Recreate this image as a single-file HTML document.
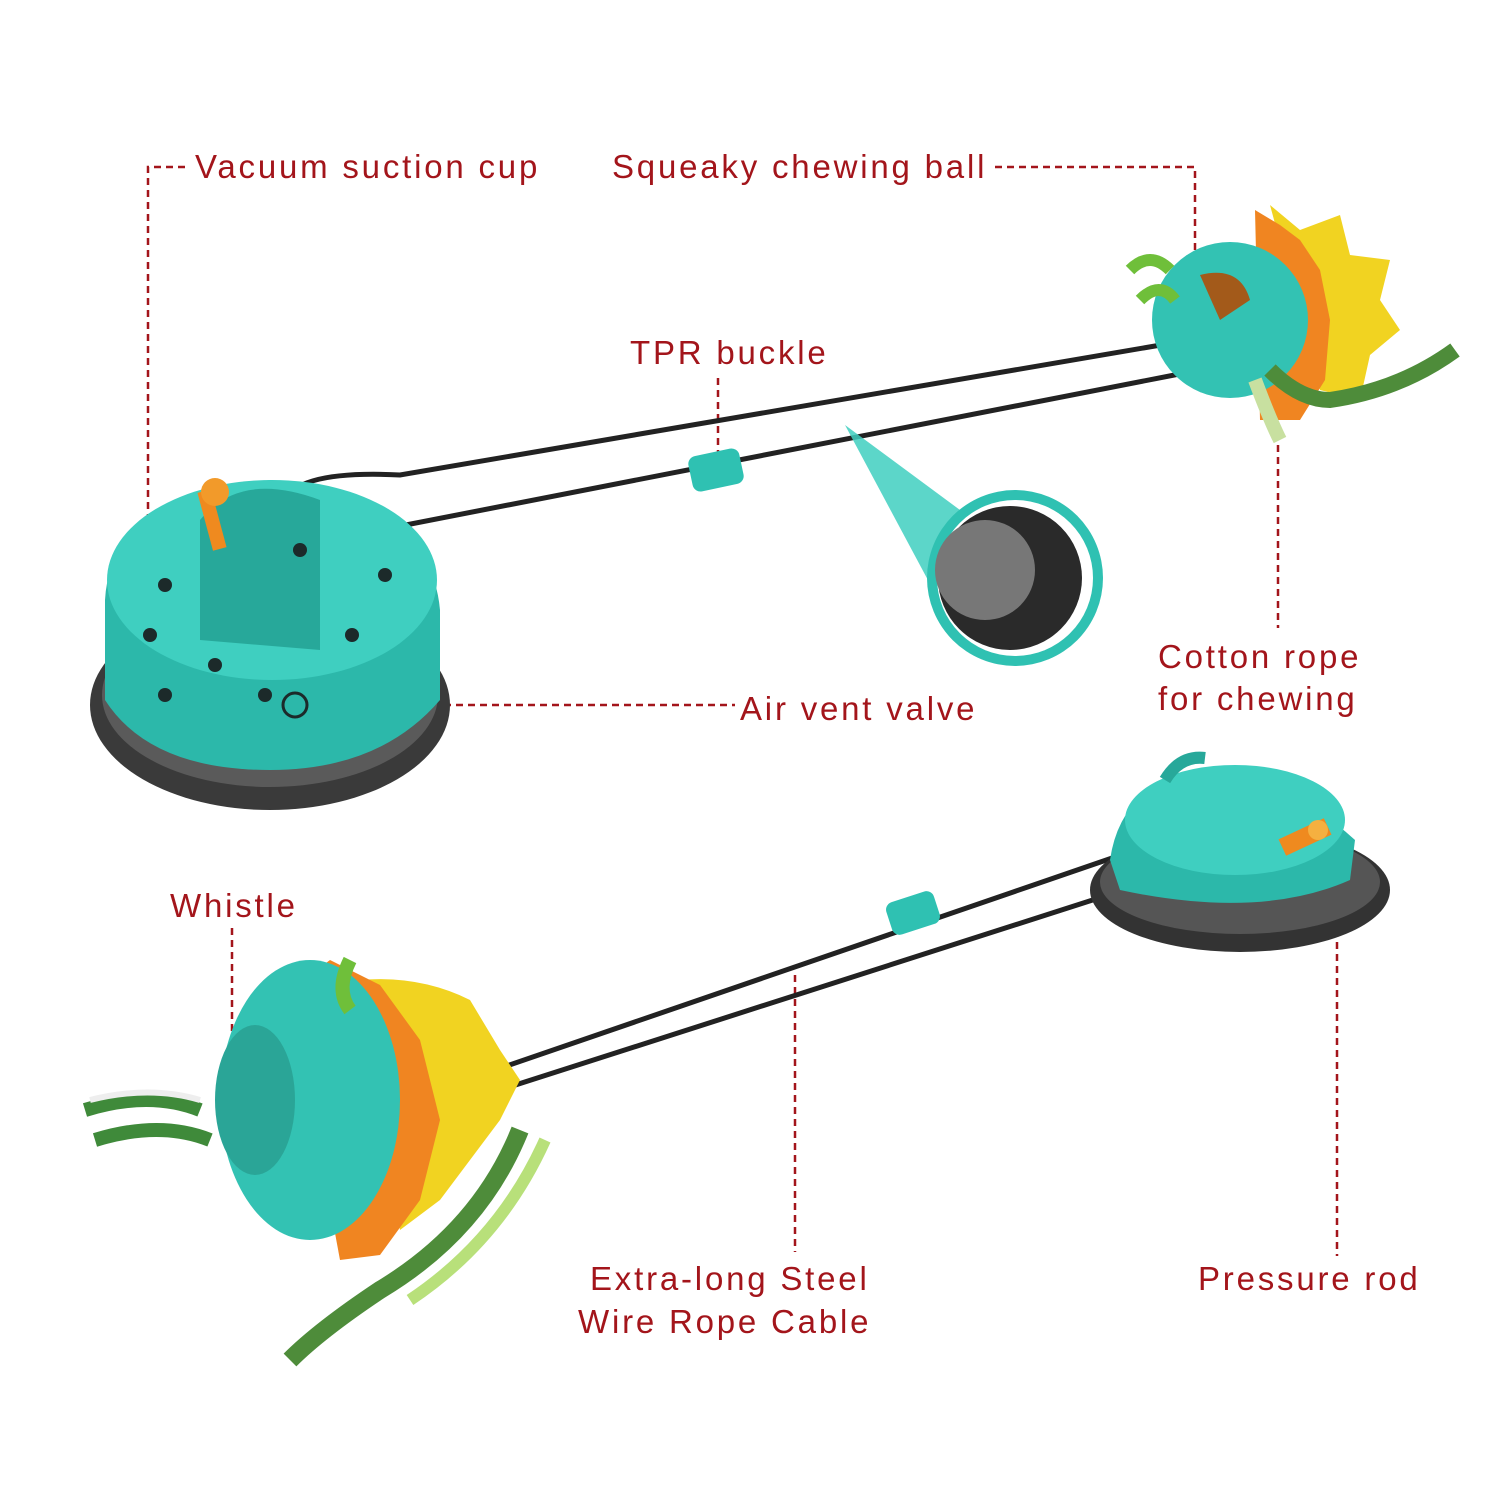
<!DOCTYPE html>
<html><head><meta charset="utf-8"><style>
html,body{margin:0;padding:0;background:#fff;}
svg{display:block}
text{font-family:"Liberation Sans",sans-serif;font-size:33px;fill:#a3151b;letter-spacing:2.8px}
.d{stroke:#a3151b;stroke-width:2.5;stroke-dasharray:7 5;fill:none}
.w{stroke:#222;stroke-width:5;fill:none;stroke-linecap:round}
</style></head><body>
<svg width="1500" height="1498" viewBox="0 0 1500 1498">
<path class="d" d="M185 167 H148 V610"/>
<path class="d" d="M995 167 H1195 V300"/>
<path class="d" d="M718 378 V452"/>
<path class="d" d="M1278 445 V628"/>
<path class="d" d="M312 705 H735"/>
<path class="d" d="M232 928 V1165"/>
<path class="d" d="M795 975 V1252"/>
<path class="d" d="M1337 918 V1256"/>

<text x="195" y="178">Vacuum suction cup</text>
<text x="612" y="178">Squeaky chewing ball</text>
<text x="630" y="364">TPR buckle</text>
<text x="1158" y="668">Cotton rope</text>
<text x="1158" y="710">for chewing</text>
<text x="740" y="720">Air vent valve</text>
<text x="170" y="917">Whistle</text>
<text x="590" y="1290">Extra-long Steel</text>
<text x="578" y="1333">Wire Rope Cable</text>
<text x="1198" y="1290">Pressure rod</text>

<path class="w" d="M285 500 Q300 470 400 475 L1190 340"/>
<path class="w" d="M290 520 Q300 560 380 530 L1200 370"/>
<rect x="690" y="452" width="52" height="36" rx="8" fill="#2fc1b2" transform="rotate(-12 716 470)"/>

<ellipse cx="270" cy="705" rx="180" ry="105" fill="#3a3a3a"/>
<ellipse cx="270" cy="695" rx="168" ry="92" fill="#5a5a5a"/>
<path d="M105 600 Q110 500 270 480 Q430 500 440 610 L440 700 Q380 770 270 770 Q150 770 105 700 Z" fill="#2cb8aa"/>
<ellipse cx="272" cy="580" rx="165" ry="100" fill="#3fcfc0"/>
<path d="M200 520 Q240 470 320 500 L320 650 L200 640 Z" fill="#27a89a"/>
<rect x="205" y="490" width="14" height="60" fill="#ef8a1f" transform="rotate(-15 212 520)"/>
<circle cx="215" cy="492" r="14" fill="#f29a2a"/>
<g fill="#1c2a2a">
<circle cx="165" cy="585" r="7"/><circle cx="150" cy="635" r="7"/><circle cx="215" cy="665" r="7"/><circle cx="265" cy="695" r="7"/><circle cx="352" cy="635" r="7"/><circle cx="385" cy="575" r="7"/><circle cx="165" cy="695" r="7"/><circle cx="300" cy="550" r="7"/></g>
<circle cx="295" cy="705" r="12" fill="none" stroke="#1c2a2a" stroke-width="3"/>

<path d="M845 425 L960 510 L960 640 Z" fill="#3fcfc0" opacity="0.85"/>
<circle cx="1015" cy="578" r="88" fill="#2fc1b2"/>
<circle cx="1015" cy="578" r="78" fill="#fff"/>
<circle cx="1010" cy="578" r="72" fill="#2a2a2a"/>
<circle cx="985" cy="570" r="50" fill="#777"/>

<path d="M1270 205 L1300 230 L1340 215 L1350 255 L1390 260 L1380 300 L1400 330 L1370 355 L1360 400 L1320 390 Z" fill="#f1d321"/>
<path d="M1255 210 L1280 225 L1300 240 L1320 270 L1330 320 L1325 380 L1300 420 L1260 420 Z" fill="#f08521"/>
<circle cx="1230" cy="320" r="78" fill="#33c2b3"/>
<path d="M1200 275 Q1240 265 1250 300 L1220 320 Z" fill="#a35a1a"/>
<path d="M1130 270 Q1150 250 1170 270 M1140 300 Q1160 280 1175 300" stroke="#6fbf3a" stroke-width="12" fill="none"/>
<path d="M1270 370 Q1300 400 1330 400 Q1400 390 1455 350" stroke="#4e8c3a" stroke-width="16" fill="none"/>
<path d="M1255 380 Q1270 420 1280 440" stroke="#c8e0a0" stroke-width="14" fill="none"/>

<path class="w" d="M495 1070 L1150 845 Q1200 800 1240 820"/>
<path class="w" d="M500 1090 L1155 880 Q1200 860 1250 870"/>
<rect x="888" y="896" width="50" height="34" rx="8" fill="#2fc1b2" transform="rotate(-18 913 913)"/>

<ellipse cx="1240" cy="890" rx="150" ry="62" fill="#333"/>
<ellipse cx="1240" cy="882" rx="140" ry="52" fill="#555"/>
<path d="M1110 860 Q1120 790 1190 770 Q1290 780 1355 840 L1350 880 Q1260 920 1120 890 Z" fill="#2cb8aa"/>
<ellipse cx="1235" cy="820" rx="110" ry="55" fill="#3fcfc0"/>
<path d="M1165 780 Q1180 755 1205 758" stroke="#27a89a" stroke-width="12" fill="none"/>
<rect x="1280" y="828" width="50" height="18" fill="#ef8a1f" transform="rotate(-25 1305 837)"/>
<circle cx="1318" cy="830" r="10" fill="#f5b040"/>

<path d="M360 980 Q420 975 470 1000 L500 1050 L520 1080 L500 1120 L470 1160 L440 1200 L400 1230 Z" fill="#f1d321"/>
<path d="M290 990 L330 960 L380 985 L420 1040 L440 1120 L420 1200 L380 1255 L340 1260 Z" fill="#f08521"/>
<ellipse cx="310" cy="1100" rx="90" ry="140" fill="#33c2b3"/>
<ellipse cx="255" cy="1100" rx="40" ry="75" fill="#2aa597"/>
<path d="M85 1110 Q150 1090 200 1110 M95 1140 Q160 1120 210 1140" stroke="#3f8a3a" stroke-width="14" fill="none"/>
<path d="M90 1100 Q150 1085 200 1100" stroke="#eee" stroke-width="6" fill="none"/>
<path d="M350 960 Q335 990 350 1010" stroke="#6fbf3a" stroke-width="14" fill="none"/>
<path d="M520 1130 Q480 1230 380 1290 Q320 1330 290 1360" stroke="#4e8c3a" stroke-width="18" fill="none"/>
<path d="M545 1140 Q500 1240 410 1300" stroke="#b8e07a" stroke-width="12" fill="none"/>
</svg>
</body></html>
